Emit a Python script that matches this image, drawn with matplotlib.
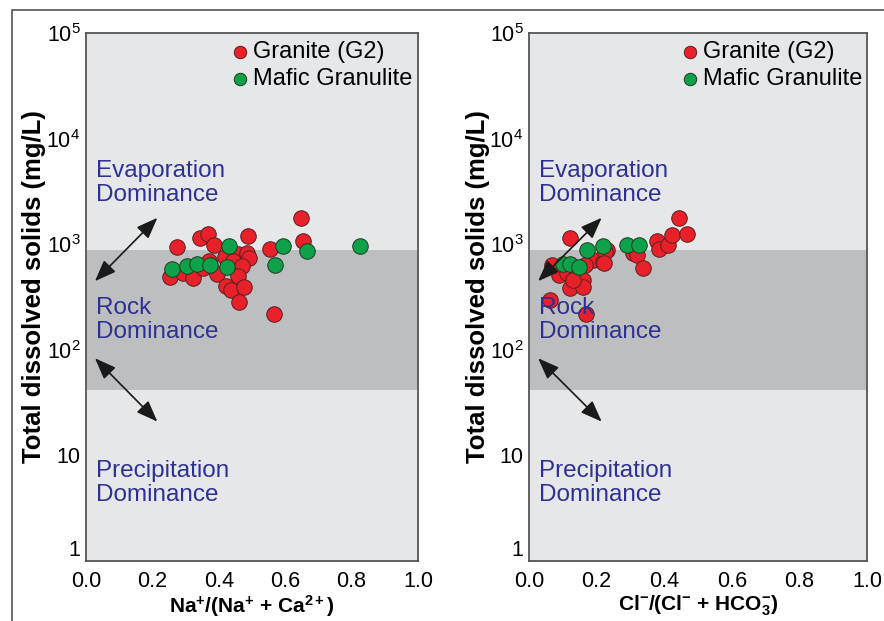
import matplotlib
matplotlib.use("Agg")
import matplotlib.pyplot as plt
from matplotlib import font_manager
from matplotlib.ticker import FixedLocator, FixedFormatter

# ---------------- data ----------------
na_granite_x = [0.273, 0.343, 0.368, 0.386, 0.489, 0.253, 0.293, 0.323, 0.353, 0.371,
                0.394, 0.419, 0.459, 0.486, 0.492, 0.444, 0.469, 0.459, 0.422, 0.437,
                0.477, 0.462, 0.647, 0.655, 0.554, 0.566]
na_granite_y = [935, 1137, 1241, 983, 1196, 486, 530, 476, 591, 693,
                519, 762, 802, 820, 735, 693, 625, 500, 402, 368,
                396, 282, 1758, 1079, 894, 217]
na_mafic_x = [0.432, 0.260, 0.303, 0.335, 0.373, 0.426, 0.665, 0.594, 0.569, 0.825]
na_mafic_y = [968, 578, 626, 650, 636, 613, 867, 962, 636, 968]

cl_granite_x = [0.121, 0.230, 0.190, 0.218, 0.166, 0.067, 0.090, 0.111, 0.141, 0.161,
                0.121, 0.159, 0.131, 0.062, 0.169, 0.225, 0.222, 0.309, 0.320, 0.336,
                0.380, 0.386, 0.412, 0.422, 0.444, 0.467]
cl_granite_y = [1137, 881, 708, 683, 636, 636, 511, 530, 511, 458,
                382, 391, 458, 296, 218, 849, 668, 820, 790, 600,
                1079, 894, 983, 1222, 1758, 1241]
cl_mafic_x = [0.171, 0.220, 0.101, 0.121, 0.149, 0.289, 0.326]
cl_mafic_y = [881, 968, 650, 650, 613, 983, 983]

rock_band = (42, 880)
ytick_vals = [1, 10, 100, 1000, 10000, 100000]
ytick_labels = ['1', '10', '$10^2$', '$10^3$', '$10^4$', '$10^5$']
xtick_vals = [0.0, 0.2, 0.4, 0.6, 0.8, 1.0]
xtick_labels = ['0.0', '0.2', '0.4', '0.6', '0.8', '1.0']
series_names = ['Granite (G2)', 'Mafic Granulite']
xlabels = [r'Na$^{\mathbf{+}}$/(Na$^{\mathbf{+}}$ + Ca$^{\mathbf{2+}}$)',
           r'Cl$^{\mathbf{-}}$/(Cl$^{\mathbf{-}}$ + HCO$_{\mathbf{3}}^{\mathbf{-}}$)']
ylabel = 'Total dissolved solids (mg/L)'

# ---------------- style ----------------
names = {f.name for f in font_manager.fontManager.ttflist}
base = 'Liberation Sans' if 'Liberation Sans' in names else 'DejaVu Sans'
narrow = 'Liberation Sans Narrow' if 'Liberation Sans Narrow' in names else base
plt.rcParams['font.family'] = [base, 'DejaVu Sans']
plt.rcParams['mathtext.fontset'] = 'custom'
plt.rcParams['mathtext.rm'] = base
plt.rcParams['mathtext.bf'] = base + ':bold'
plt.rcParams['mathtext.it'] = base

red = '#E8202A'
green = '#0DA24A'
blue = '#2E3192'
light = '#E6E7E8'
dark = '#BDBEC0'
spine = '#555555'

fig = plt.figure(figsize=(8.84, 6.21), dpi=100)

# figure frame
fig.add_artist(plt.Line2D([13/884, 1.0], [1 - 10/621, 1 - 10/621], color='#555555', lw=1.2,
                          transform=fig.transFigure))
fig.add_artist(plt.Line2D([12/884, 12/884], [0, 1 - 10/621], color='#555555', lw=1.2,
                          transform=fig.transFigure))

axes_pos = [[86/884, 60/621, 332/884, 528/621],
            [529/884, 60/621, 338/884, 528/621]]
ylabel_x = [-0.12, -0.115]
datasets = [(na_granite_x, na_granite_y, na_mafic_x, na_mafic_y),
            (cl_granite_x, cl_granite_y, cl_mafic_x, cl_mafic_y)]

for i, pos in enumerate(axes_pos):
    ax = fig.add_axes(pos)
    ax.set_facecolor(light)
    ax.set_yscale('log')
    ax.set_xlim(0, 1)
    ax.set_ylim(1, 1e5)
    ax.axhspan(rock_band[0], rock_band[1], color=dark, lw=0, zorder=0.5)
    gx, gy, mx, my = datasets[i]
    ax.scatter(gx, gy, s=125, c=red, edgecolors='#5a2020', linewidths=0.7, zorder=3,
               label=series_names[0])
    ax.scatter(mx, my, s=125, c=green, edgecolors='#203a20', linewidths=0.7, zorder=4,
               label=series_names[1])
    for s in ax.spines.values():
        s.set_color(spine)
        s.set_linewidth(1.3)
    ax.yaxis.set_major_locator(FixedLocator(ytick_vals))
    ax.yaxis.set_major_formatter(FixedFormatter(ytick_labels))
    ax.yaxis.set_minor_locator(FixedLocator([]))
    ax.set_xticks(xtick_vals)
    ax.set_xticklabels(xtick_labels, fontfamily=narrow)
    ax.tick_params(axis='both', length=0, labelsize=15.5, colors='black')
    ax.tick_params(axis='x', pad=7)
    ax.tick_params(axis='y', pad=4)
    for lab in ax.get_yticklabels():
        if lab.get_text() == '1':
            lab.set_va('bottom')
    ax.set_xlabel(xlabels[i], fontsize=15, fontweight='bold', fontfamily=narrow, labelpad=1)
    ax.set_ylabel(ylabel, fontsize=18.5, fontweight='bold')
    ax.yaxis.set_label_coords(ylabel_x[i], 0.52)

    ax.legend(loc='upper right', frameon=False, fontsize=17, handletextpad=-0.45,
              borderaxespad=0.1, labelspacing=0.2, markerscale=0.8,
              bbox_to_anchor=(1.02, 1.007))

    # text annotations
    ax.text(0.03, 10**3.58, 'Evaporation\nDominance', color=blue, fontsize=17.5,
            va='center', ha='left', linespacing=1.1)
    ax.text(0.03, 10**2.28, 'Rock\nDominance', color=blue, fontsize=17.5,
            va='center', ha='left', linespacing=1.1)
    ax.text(0.03, 10**0.74, 'Precipitation\nDominance', color=blue, fontsize=17.5,
            va='center', ha='left', linespacing=1.1)

    # arrows
    style = '<|-|>,head_length=1.3,head_width=0.5'
    ax.annotate('', xy=(0.215, 10**3.25), xytext=(0.027, 10**2.65),
                arrowprops=dict(arrowstyle=style, color='#1a1a1a', lw=1.2,
                                shrinkA=0, shrinkB=0), zorder=5)
    ax.annotate('', xy=(0.215, 10**1.32), xytext=(0.027, 10**1.92),
                arrowprops=dict(arrowstyle=style, color='#1a1a1a', lw=1.2,
                                shrinkA=0, shrinkB=0), zorder=5)

fig.savefig('out.png', dpi=100)
